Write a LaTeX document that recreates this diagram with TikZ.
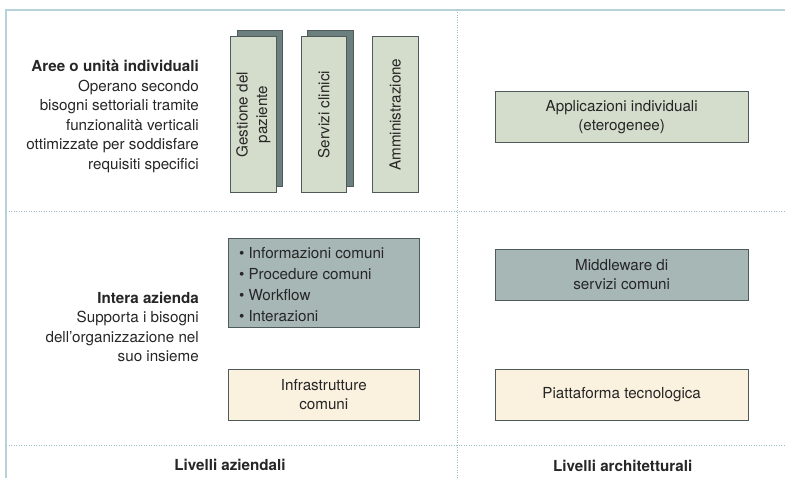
\documentclass[tikz,border=0pt]{standalone}
\usepackage{fontspec}
\setmainfont{TeX Gyre Heros}
\definecolor{framecol}{HTML}{B8D2D9}
\definecolor{dotcol}{HTML}{9DBDC6}
\definecolor{edgecol}{HTML}{4F5B5B}
\definecolor{greenfill}{HTML}{D4DDCB}
\definecolor{shadowfill}{HTML}{6B7F7F}
\definecolor{greyfill}{HTML}{A7B7B5}
\definecolor{creamfill}{HTML}{FAF1DE}
\tikzset{
  txt/.style={font=\fontsize{15.2}{19.5}\selectfont, text=black!85},
  boxed/.style={shape=rectangle, draw=edgecol, line width=0.9pt, txt, align=center, inner sep=0pt},
  tallbox/.style={boxed, fill=greenfill, minimum width=45.5pt, minimum height=156pt},
  shadowbox/.style={shape=rectangle, draw=edgecol, line width=0.9pt, fill=shadowfill, minimum width=45.5pt, minimum height=156pt},
  widebox/.style={boxed, minimum width=253pt, minimum height=51pt},
  midbox/.style={boxed, minimum width=191pt},
  sidetext/.style={txt, align=right, inner sep=0pt, anchor=east},
  foottext/.style={txt, font=\fontsize{15.2}{19.5}\selectfont\bfseries, inner sep=0pt},
  sepline/.style={dotcol, line width=0.9pt, dash pattern=on 0.9pt off 1.6pt}
}
\newcommand{\punto}{\textbullet\hspace{4pt}}
\begin{document}
\begin{tikzpicture}[x=1pt, y=-1pt]
	\useasboundingbox (0,0) rectangle (785,478);
	\coordinate (tl) at (6,10);
	\coordinate (tr) at (785,10);
	\coordinate (bl) at (6,478);
	\coordinate (vt) at (457,10);
	\coordinate (vb) at (457,478);
	\coordinate (ml) at (6,211);
	\coordinate (mr) at (785,211);
	\coordinate (ll) at (6,445);
	\coordinate (lr) at (785,445);
	% frame and separators
	\draw[framecol, line width=1.6pt] (bl) -- (tl) -- (tr);
	\draw[sepline] (vt) -- (vb);
	\draw[sepline] (ml) -- (mr);
	\draw[sepline] (ll) -- (lr);
	% upper row, left
	\node[sidetext] (aree) at (199,116.5){\textbf{Aree o unità individuali}\\Operano secondo\\bisogni settoriali tramite\\funzionalità verticali\\ottimizzate per soddisfare\\requisiti specifici};
	\node[shadowbox] (gestioneback) at (259.7,108.3){};
	\node[tallbox] (gestione) at (253.3,114.7){};
	\node[txt, rotate=90, align=center] at (gestione.center){Gestione del\\paziente};
	\node[shadowbox] (serviziback) at (330.2,108.3){};
	\node[tallbox] (servizi) at (323.8,114.7){};
	\node[txt, rotate=90] at (servizi.center){Servizi clinici};
	\node[tallbox] (amministrazione) at (395.3,114.7){};
	\node[txt, rotate=90] at (amministrazione.center){Amministrazione};
	% upper row, right
	\node[widebox, fill=greenfill] (applicazioni) at (621.7,117.2){Applicazioni individuali\\(eterogenee)};
	% lower row, left
	\node[sidetext] (intera) at (199,327){\textbf{Intera azienda}\\Supporta i bisogni\\dell’organizzazione nel\\suo insieme};
	\node[midbox, fill=greyfill, minimum height=89pt] (comuni) at (323.8,282.8){};
	\node[txt, align=left, anchor=west, inner sep=0pt, font=\fontsize{15.2}{21}\selectfont] (elenco) at (239,285){\punto Informazioni comuni\\\punto Procedure comuni\\\punto Workflow\\\punto Interazioni};
	\node[midbox, fill=creamfill, minimum height=50.7pt] (infra) at (323.8,394.7){Infrastrutture\\comuni};
	% lower row, right
	\node[widebox, fill=greyfill] (middleware) at (621.7,274.7){Middleware di\\servizi comuni};
	\node[widebox, fill=creamfill] (piattaforma) at (621.7,394.7){Piattaforma tecnologica};
	% footers
	\node[foottext] (aziendali) at (230,465){Livelli aziendali};
	\node[foottext] (architetturali) at (622.7,466){Livelli architetturali};
\end{tikzpicture}
\end{document}
